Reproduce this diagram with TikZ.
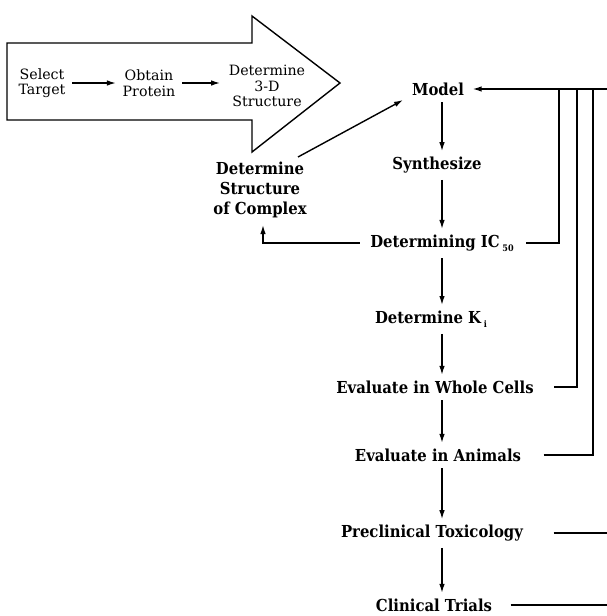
\documentclass[tikz,border=0pt]{standalone}
\usepackage{fontspec}
\setmainfont{DejaVu Serif}
\newfontfamily\bfnt{DejaVu Serif}[FakeStretch=0.9]
\usetikzlibrary{arrows.meta}
\tikzset{
  arr/.style={-{Latex[length=9pt,width=5.5pt]}},
  ln/.style={line width=1.4pt},
  step1/.style={font=\fontsize{14.2}{15.5}\selectfont, align=center, inner sep=0pt},
  stage/.style={font=\bfnt\bfseries\fontsize{16.5}{19}\selectfont, align=center, inner sep=0pt},
}
\begin{document}
\begin{tikzpicture}[x=1pt,y=-1pt, line width=1.4pt]
\useasboundingbox (0,0) rectangle (607,616);
% big arrow
\draw[ln, line join=miter] (7,43) -- (252,43) -- (252,16) -- (340,83) -- (252,152) -- (252,120) -- (7,120) -- cycle;
\node[step1] (sel) at (42,83) {Select\\Target};
\node[step1] (obt) at (149,83) {Obtain\\Protein};
\node[step1] (det) at (267,86) {Determine\\3-D\\Structure};
\draw[ln,arr] ([xshift=6pt]sel.east) -- ([xshift=-6pt]obt.west);
\draw[ln,arr] ([xshift=6pt]obt.east) -- ([xshift=-8pt]obt.east -| det.west);

% stages
\coordinate (ax) at (442,0);
\node[stage] (model) at (438,89) {Model};
\node[stage] (syn) at (437,165) {Synthesize};
\node[stage] (ic) at (442,243) {Determining IC\,{\fontsize{9}{9}\selectfont\raisebox{-4pt}{50}}};
\node[stage] (ki) at (431,319) {Determine K\,{\fontsize{9}{9}\selectfont\raisebox{-4pt}{i}}};
\node[stage] (wc) at (435,387) {Evaluate in Whole Cells};
\node[stage] (an) at (438,455) {Evaluate in Animals};
\node[stage] (pt) at (432,533) {Preclinical Toxicology};
\node[stage] (ct) at (434,605) {Clinical Trials};
\node[stage, font=\bfnt\bfseries\fontsize{16.5}{20}\selectfont] (cx) at (260,190) {Determine\\Structure\\of Complex};

\draw[arr] ([yshift=-6pt]model.south -| ax) -- ([yshift=5pt]syn.north -| ax);
\draw[arr] ([yshift=-6pt]syn.south -| ax) -- ([yshift=5pt]ic.north -| ax);
\draw[arr] ([yshift=-6pt]ic.south -| ax) -- ([yshift=5pt]ki.north -| ax);
\draw[arr] ([yshift=-6pt]ki.south -| ax) -- ([yshift=5pt]wc.north -| ax);
\draw[arr] ([yshift=-6pt]wc.south -| ax) -- ([yshift=5pt]an.north -| ax);
\draw[arr] ([yshift=-6pt]an.south -| ax) -- ([yshift=5pt]pt.north -| ax);
\draw[arr] ([yshift=-6pt]pt.south -| ax) -- ([yshift=5pt]ct.north -| ax);

% complex loop
\coordinate (cxa) at (263,243);
\draw[arr] ([xshift=-10pt]ic.west) -- (cxa) -- (263,225);
\draw[arr] (298,157) -- (403,100);

% feedback
\coordinate (rt) at (610,89);
\draw[arr] (rt) -- ([xshift=8pt]model.east);
\draw ([xshift=12pt]ic.east) -- (559,243) -- (559,89);
\draw ([xshift=20pt]wc.east) -- (577,387) -- (577,89);
\draw ([xshift=22pt]an.east) -- (593,455) -- (593,89);
\draw ([xshift=30pt]pt.east) -- (610,533);
\draw ([xshift=18pt]ct.east) -- (610,605);
\end{tikzpicture}
\end{document}
